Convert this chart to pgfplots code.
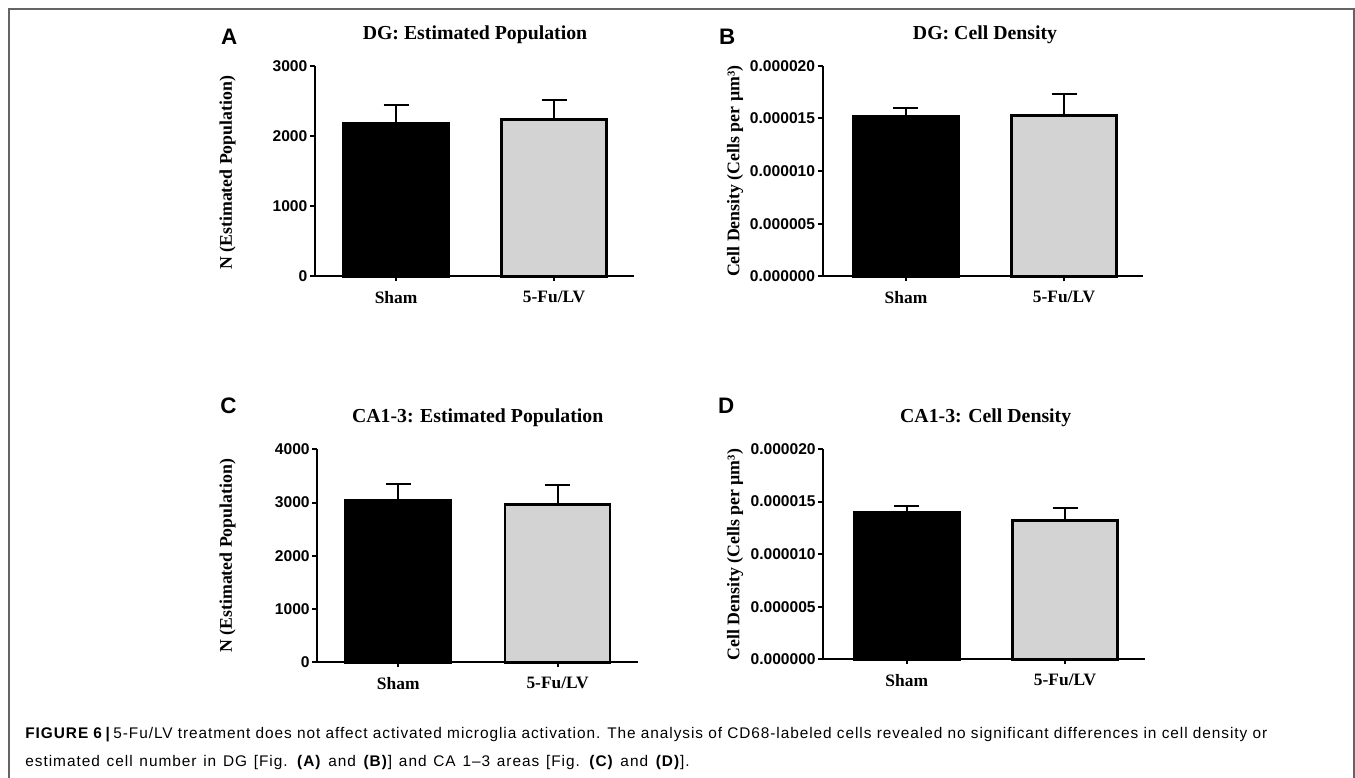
\documentclass[border=0pt]{standalone}
\usepackage{pgfplots}
\pgfplotsset{compat=1.18}
\usepackage{fontspec}
\setmainfont{Liberation Serif}
\setsansfont{Liberation Sans}
\newfontfamily\capfont[LetterSpace=6.1]{Liberation Sans}
\newfontfamily\capfontw[LetterSpace=6.3,WordSpace=1.29]{Liberation Sans}
\definecolor{barGray}{RGB}{211,211,211}
\definecolor{frameGray}{RGB}{100,100,100}
\pgfplotsset{
  gp/.style={
    scale only axis,
    anchor=south west,
    axis x line*=bottom, axis y line*=left,
    axis line style={line width=1pt, black},
    every tick/.style={black, line width=1pt},
    tick align=outside,
    major tick length=2.5pt,
    xtick={0,1}, xticklabels={Sham,5-Fu/LV},
    xticklabel style={font=\bfseries\fontsize{8.7}{10}\selectfont, yshift=-1.5pt},
    yticklabel style={font=\sffamily\bfseries\fontsize{7.8}{9}\selectfont, xshift=2.2pt},
    /pgf/number format/assume math mode=true,
    /pgf/number format/1000 sep={},
    scaled y ticks=false,
    ymin=0,
    clip=false,
    ybar,
  },
  shambar/.style={bar width=52.5pt, bar shift=0pt, fill=black, draw=black, line width=1.3pt,
    error bars/.cd, y dir=plus, y explicit,
    error bar style={line width=1pt, black},
    error mark options={rotate=90, mark size=6.25pt, line width=1pt, black}},
  fubar/.style={bar width=52.5pt, bar shift=0pt, fill=barGray, draw=black, line width=1.3pt,
    error bars/.cd, y dir=plus, y explicit,
    error bar style={line width=1pt, black},
    error mark options={rotate=90, mark size=6.25pt, line width=1pt, black}},
}
\begin{document}
\begin{tikzpicture}
\path[use as bounding box] (0,0) rectangle (677.5pt,388.5pt);

% Panel A
\begin{axis}[gp, at={(157.5pt,250.35pt)}, width=159.5pt, height=105.3pt,
  xmin=-0.513, xmax=1.506, ymax=3000, ytick={0,1000,2000,3000}]
\addplot[shambar] coordinates {(0,2179) +- (0,265)};
\addplot[fubar] coordinates {(1,2236) +- (0,271)};
\end{axis}

% Panel B
\begin{axis}[gp, at={(411.35pt,250.35pt)}, width=160.15pt, height=105.3pt,
  xmin=-0.527, xmax=1.5, ymax=0.00002,
  ytick={0,0.000005,0.00001,0.000015,0.00002},
  yticklabels={0.000000,0.000005,0.000010,0.000015,0.000020}]
\addplot[shambar] coordinates {(0,0.00001516) +- (0,0.00000079)};
\addplot[fubar] coordinates {(1,0.00001525) +- (0,0.00000203)};
\end{axis}

% Panel C
\begin{axis}[gp, at={(158.65pt,57.35pt)}, width=160.5pt, height=106.5pt,
  xmin=-0.508, xmax=1.506, ymax=4000, ytick={0,1000,2000,3000,4000}]
\addplot[shambar] coordinates {(0,3042) +- (0,301)};
\addplot[fubar] coordinates {(1,2967) +- (0,357)};
\end{axis}

% Panel D
\begin{axis}[gp, at={(411.65pt,58.85pt)}, width=160.85pt, height=105.15pt,
  xmin=-0.527, xmax=1.505, ymax=0.00002,
  ytick={0,0.000005,0.00001,0.000015,0.00002},
  yticklabels={0.000000,0.000005,0.000010,0.000015,0.000020}]
\addplot[shambar] coordinates {(0,0.00001398) +- (0,0.00000057)};
\addplot[fubar] coordinates {(1,0.00001322) +- (0,0.00000114)};
\end{axis}

\begin{scope}[x=0.5pt, y=-0.5pt, shift={(0,388.5pt)}]
  % frame
  \draw[frameGray, line width=1pt] (9,778) -- (9,9) -- (1354,9) -- (1354,778);
  % panel letters
  \node[anchor=base west, inner sep=0pt, font=\sffamily\bfseries\fontsize{11.2}{13}\selectfont] at (220.7,44.3) {A};
  \node[anchor=base west, inner sep=0pt, font=\sffamily\bfseries\fontsize{11.2}{13}\selectfont] at (718.7,44.7) {B};
  \node[anchor=base west, inner sep=0pt, font=\sffamily\bfseries\fontsize{11.2}{13}\selectfont] at (220,413.3) {C};
  \node[anchor=base west, inner sep=0pt, font=\sffamily\bfseries\fontsize{11.2}{13}\selectfont] at (717.7,414) {D};
  % titles
  \node[anchor=base, inner sep=0pt, font=\bfseries\fontsize{9.9}{12}\selectfont] at (475,39.5) {DG: Estimated Population};
  \node[anchor=base, inner sep=0pt, font=\bfseries\fontsize{9.9}{12}\selectfont] at (985,39.3) {DG: Cell Density};
  \node[anchor=base, inner sep=0pt, font=\bfseries\fontsize{9.9}{12}\selectfont] at (477.7,422.7) {CA1-3: Estimated Population};
  \node[anchor=base, inner sep=0pt, font=\bfseries\fontsize{9.9}{12}\selectfont] at (985.7,422.7) {CA1-3: Cell Density};
  % y labels
  \node[rotate=90, inner sep=0pt, font=\bfseries\fontsize{8.9}{10}\selectfont] at (227.5,172.8) {N (Estimated Population)};
  \node[rotate=90, inner sep=0pt, font=\bfseries\fontsize{8.9}{10}\selectfont] at (735,171.3) {Cell Density (Cells per µm³)};
  \node[rotate=90, inner sep=0pt, font=\bfseries\fontsize{8.9}{10}\selectfont] at (227.5,555.8) {N (Estimated Population)};
  \node[rotate=90, inner sep=0pt, font=\bfseries\fontsize{8.9}{10}\selectfont] at (735,554.7) {Cell Density (Cells per µm³)};
  % caption
  \node[anchor=base west, inner sep=0pt, font=\capfont\fontsize{7.7}{9}\selectfont] at (25,738) {\textbf{FIGURE 6}\,\textbf{|}\,5-Fu/LV treatment does not affect activated microglia activation. The analysis of CD68-labeled cells revealed no significant differences in cell density or};
  \node[anchor=base west, inner sep=0pt, font=\capfontw\fontsize{7.7}{9}\selectfont] at (25,766) {estimated cell number in DG [Fig. \textbf{(A)} and \textbf{(B)}] and CA 1–3 areas [Fig. \textbf{(C)} and \textbf{(D)}].};
\end{scope}
\end{tikzpicture}
\end{document}
